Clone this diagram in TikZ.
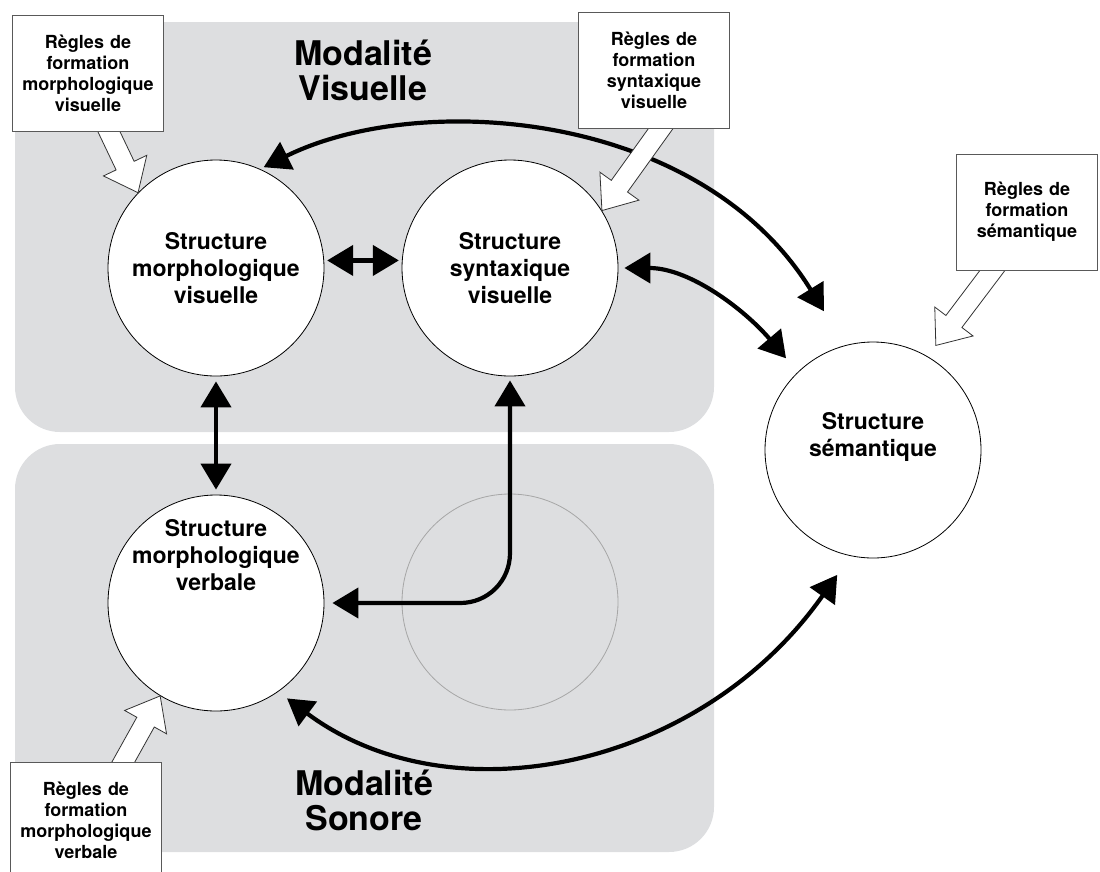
\documentclass[tikz,border=0pt]{standalone}
\usepackage{fontspec}
\setmainfont{TeX Gyre Heros}
\usetikzlibrary{arrows.meta, calc, decorations.pathmorphing}
\definecolor{panel}{RGB}{221,222,224}

\begin{document}
\begin{tikzpicture}[x=1pt, y=-1pt,
  struct/.style={circle, draw, fill=white, line width=0.8pt, minimum size=216pt, inner sep=0pt, align=center, font=\bfseries\fontsize{23}{27}\selectfont},
  lab/.style={align=center, font=\bfseries\fontsize{23}{27}\selectfont},
  box/.style={draw=black!65, fill=white, line width=0.8pt, minimum width=151pt, minimum height=116pt, text width=147pt, align=center, inner sep=0pt, font=\bfseries\fontsize{18}{21}\selectfont},
  title/.style={align=center, font=\bfseries\fontsize{34}{35}\selectfont},
  hollow/.style={draw=black!80, fill=white, line width=0.8pt, line join=miter},
  link/.style={line width=4.2pt, {Triangle[length=26pt,width=30pt]}-{Triangle[length=26pt,width=30pt]},
    postaction={draw, -, line width=1.2pt, decorate, decoration={random steps, segment length=2pt, amplitude=1.3pt}}}]
\clip (0,0) rectangle (1100,871);

% les deux modalites
\fill[panel, rounded corners=45pt] (15,22) rectangle (714,432);
\fill[panel, rounded corners=45pt] (15,444) rectangle (714,852);
\node[title] (modv) at (363,70) {Modalité\\Visuelle};
\node[title] (mods) at (364,800) {Modalité\\Sonore};

% structures
\node[struct] (smv) at (216,268) {Structure\\morphologique\\visuelle};
\node[struct] (ssv) at (510,268) {Structure\\syntaxique\\visuelle};
\node[struct, label={[lab, yshift=13pt]center:{Structure\\sémantique}}] (sem) at (873,450) {};
\node[struct, label={[lab, yshift=48pt]center:{Structure\\morphologique\\verbale}}] (smb) at (216,603) {};
\node[struct, draw=black!35, fill=none] (vide) at (510,602) {};

% regles de formation
\node[box] (rfmv) at (88,73) {Règles de\\formation\\morphologique\\visuelle};
\node[box] (rfsv) at (654,70) {Règles de\\formation\\syntaxique\\visuelle};
\node[box, minimum width=141pt, text width=138pt] (rfs) at (1027,212) {Règles de\\formation\\sémantique};
\node[box] (rfmb) at (86,820) {Règles de\\formation\\morphologique\\verbale};

% interfaces
\begin{scope}[link]
  \draw[shorten <=3pt, shorten >=3pt] (smv.4) -- (ssv.176);
  \draw[shorten <=5pt, shorten >=5pt] (smv.south) -- (smb.north);
  \draw[shorten <=4pt, shorten >=40pt] (smv.66) .. controls (420,90) and (700,110) .. (sem.105);
  \draw[shorten <=6pt, shorten >=18pt] (ssv.east) .. controls (690,268) and (745,310) .. (sem.134);
  \draw[shorten <=4pt, shorten >=8pt] (ssv.south) -- (510,553) .. controls (510,581) and (488,603) .. (460,603) -- (smb.east);
  \draw[shorten <=11pt, shorten >=23pt] (smb.-55) .. controls (450,820) and (700,770) .. (sem.-102);
\end{scope}

% fleches creuses
\coordinate (ta) at ($(rfmv.south)+(17,-8)$);
\coordinate (ha) at (smv.136);
\coordinate (tb) at ($(rfsv.south)+(14,-10)$);
\coordinate (hb) at (ssv.32);
\coordinate (tc) at ($(rfs.south)+(-27,-10)$);
\coordinate (hc) at ($(sem.center)!122pt!(sem.59)$);
\coordinate (td) at ($(rfmb.north)+(32,10)$);
\coordinate (hd) at (smb.239);
\foreach \tail/\tip in {ta/ha, tb/hb, tc/hc, td/hd} {
  \coordinate (n) at ($(\tip)!30pt!(\tail)$);
  \filldraw[hollow] ($(\tail)!10pt!90:(\tip)$) -- ($(n)!10pt!90:(\tip)$) -- ($(n)!24pt!90:(\tip)$) -- (\tip)
    -- ($(n)!24pt!-90:(\tip)$) -- ($(n)!10pt!-90:(\tip)$) -- ($(\tail)!10pt!-90:(\tip)$) -- cycle;
}
% les boites par-dessus les queues
\node[box] at (rfmv) {Règles de\\formation\\morphologique\\visuelle};
\node[box] at (rfsv) {Règles de\\formation\\syntaxique\\visuelle};
\node[box, minimum width=141pt, text width=138pt] at (rfs) {Règles de\\formation\\sémantique};
\node[box] at (rfmb) {Règles de\\formation\\morphologique\\verbale};
\end{tikzpicture}
\end{document}
